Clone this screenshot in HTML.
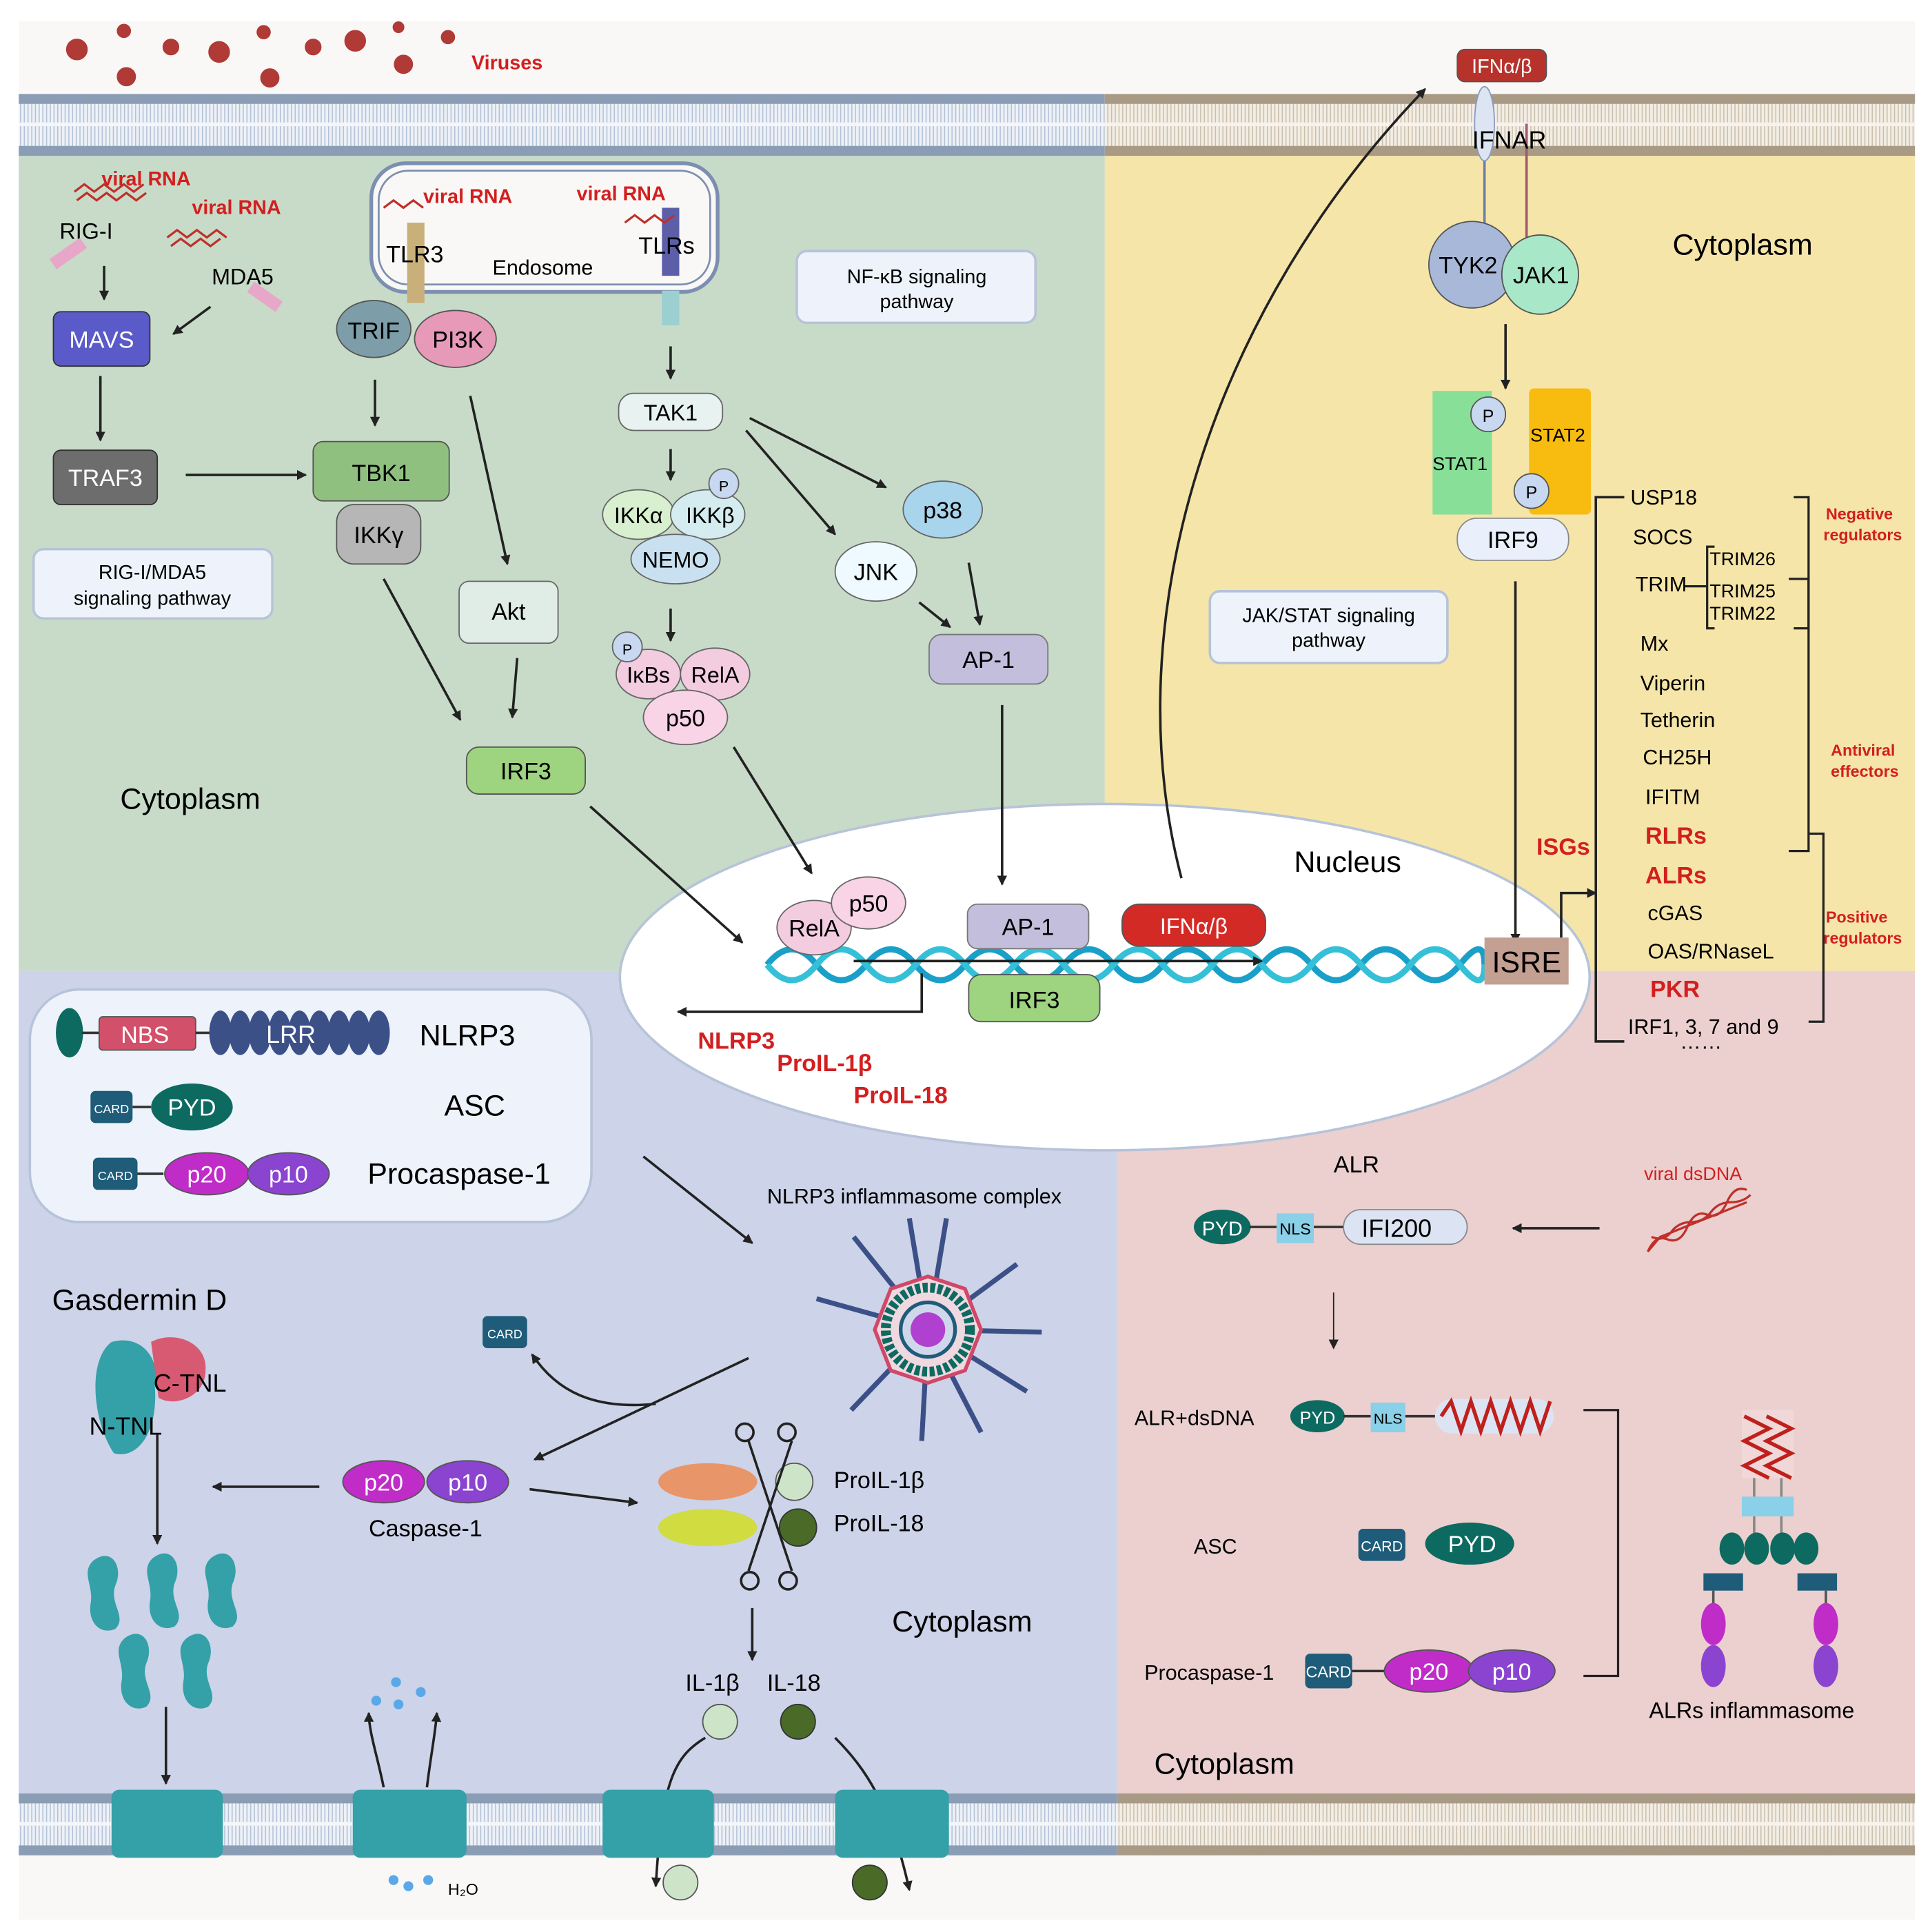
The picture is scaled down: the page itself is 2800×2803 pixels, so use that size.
<!DOCTYPE html>
<html><head><meta charset="utf-8"><style>
html,body{margin:0;padding:0;background:#fff}
svg{display:block}
text{font-family:"Liberation Sans","DejaVu Sans",sans-serif}
</style></head><body>
<svg width="2800" height="2803" viewBox="0 0 1560 1562" xmlns="http://www.w3.org/2000/svg">
<defs>
<marker id="ar" markerWidth="8" markerHeight="8" refX="7" refY="4" orient="auto" markerUnits="userSpaceOnUse"><path d="M0,0 L8,4 L0,8 z" fill="#222"/></marker>
<pattern id="strL" width="3" height="10" patternUnits="userSpaceOnUse"><rect width="3" height="10" fill="#eef2f8"/><line x1="1.5" y1="0" x2="1.5" y2="10" stroke="#b4c2d6" stroke-width="0.9"/></pattern>
<pattern id="strR" width="3" height="10" patternUnits="userSpaceOnUse"><rect width="3" height="10" fill="#f3eee5"/><line x1="1.5" y1="0" x2="1.5" y2="10" stroke="#cbbfac" stroke-width="0.9"/></pattern>
</defs>
<rect width="1560" height="1562" fill="#fff"/>
<rect x="15" y="17" width="1533" height="1535" fill="#f9f8f6"/>
<!-- regions -->
<rect x="15" y="125" width="878" height="660" fill="#c8dbc8"/>
<rect x="893" y="125" width="655" height="660" fill="#f5e5a8"/>
<rect x="15" y="785" width="888" height="665" fill="#cdd3e8"/>
<rect x="903" y="785" width="645" height="665" fill="#ebd0cf"/>
<!-- membranes -->
<g>
<rect x="15" y="76" width="878" height="50" fill="url(#strL)"/>
<rect x="15" y="76" width="878" height="8" fill="#8a9db5"/><rect x="15" y="118" width="878" height="8" fill="#8a9db5"/>
<rect x="15" y="99" width="878" height="3" fill="#f4f6fa"/>
<rect x="893" y="76" width="655" height="50" fill="url(#strR)"/>
<rect x="893" y="76" width="655" height="8" fill="#a89a85"/><rect x="893" y="118" width="655" height="8" fill="#a89a85"/>
<rect x="893" y="99" width="655" height="3" fill="#f7f3ec"/>
<rect x="15" y="1450" width="888" height="50" fill="url(#strL)"/>
<rect x="15" y="1450" width="888" height="8" fill="#8a9db5"/><rect x="15" y="1492" width="888" height="8" fill="#8a9db5"/>
<rect x="15" y="1473" width="888" height="3" fill="#f4f6fa"/>
<rect x="903" y="1450" width="645" height="50" fill="url(#strR)"/>
<rect x="903" y="1450" width="645" height="8" fill="#a89a85"/><rect x="903" y="1492" width="645" height="8" fill="#a89a85"/>
<rect x="903" y="1473" width="645" height="3" fill="#f7f3ec"/>
</g>
<!-- nucleus -->
<ellipse cx="893" cy="790" rx="392" ry="140" fill="#fff" stroke="#b6c3d8" stroke-width="2"/>
<!-- viruses -->
<g fill="#b03a36" stroke="#b03a36" stroke-width="1.5">
<circle cx="62" cy="40" r="8"/><circle cx="100" cy="25" r="5"/><circle cx="138" cy="38" r="6"/><circle cx="177" cy="42" r="8"/><circle cx="213" cy="26" r="5"/><circle cx="253" cy="38" r="6"/><circle cx="287" cy="33" r="8"/><circle cx="322" cy="22" r="4"/><circle cx="362" cy="30" r="5"/><circle cx="102" cy="62" r="7"/><circle cx="218" cy="63" r="7"/><circle cx="326" cy="52" r="7"/>
</g>
<text x="381" y="56" font-size="16" fill="#d21f1f" font-weight="bold">Viruses</text>
<!-- endosome -->
<rect x="300" y="132" width="280" height="104" rx="28" fill="#f9f8f6" stroke="#7c8fb0" stroke-width="3"/>
<rect x="306" y="138" width="268" height="92" rx="24" fill="none" stroke="#7c8fb0" stroke-width="1.5"/>
<rect x="329" y="180" width="14" height="65" fill="#c9b07a"/>
<rect x="535" y="168" width="14" height="55" fill="#5c5fa8"/>
<rect x="535" y="235" width="14" height="28" fill="#9ccfcf"/>
<text x="398" y="222" font-size="17">Endosome</text>
<text x="312" y="212" font-size="19">TLR3</text>
<text x="516" y="205" font-size="19">TLRs</text>
<g fill="#d21f1f" font-size="16" font-weight="bold">
<text x="82" y="150">viral RNA</text><text x="155" y="173">viral RNA</text><text x="342" y="164">viral RNA</text><text x="466" y="162">viral RNA</text>
<text x="1329" y="954" font-size="15" font-weight="normal">viral dsDNA</text>
</g>
<g stroke="#c0302a" stroke-width="1.8" fill="none">
<path d="M60,155 l8,-6 8,6 8,-6 8,6 8,-6 8,6 8,-6"/><path d="M62,162 l8,-6 8,6 8,-6 8,6 8,-6 8,6 8,-6"/>
<path d="M135,192 l8,-6 8,6 8,-6 8,6 8,-6 8,6"/><path d="M138,199 l8,-6 8,6 8,-6 8,6 8,-6"/>
<path d="M310,168 l8,-6 8,6 8,-6 8,6"/><path d="M505,180 l8,-6 8,6 8,-6 8,6 8,-6"/>
<path d="M1332,1012 l10,-12 10,-4 10,-4 10,-4 10,-4 10,-4 10,-4 10,-4"/>
<path d="M1332,1012 q6,-14 16,-10 t16,-10 t16,-10 t16,-10 t16,-10"/>
<path d="M1335,1000 q10,4 16,-4 t16,-8 t16,-8 t16,-8 t16,-6"/>
</g>
<text x="48" y="193" font-size="18">RIG-I</text>
<text x="171" y="230" font-size="18">MDA5</text>
<rect x="40" y="200" width="30" height="10" fill="#e8a6c8" transform="rotate(-35 55 205)"/>
<rect x="200" y="235" width="28" height="10" fill="#e8a6c8" transform="rotate(35 214 240)"/>
<!-- nodes left -->
<rect x="43" y="252" width="78" height="44" rx="6" fill="#5a5ac8" stroke="#333"/>
<text x="82" y="281" font-size="19" fill="#fff" text-anchor="middle">MAVS</text>
<rect x="43" y="364" width="84" height="44" rx="6" fill="#6d6d6d" stroke="#333"/>
<text x="85" y="393" font-size="19" fill="#fff" text-anchor="middle">TRAF3</text>
<rect x="27" y="444" width="193" height="56" rx="8" fill="#eef3fb" stroke="#b6c3d8" stroke-width="2"/>
<text x="123" y="468" font-size="16" text-anchor="middle">RIG-I/MDA5</text><text x="123" y="489" font-size="16" text-anchor="middle">signaling pathway</text>
<ellipse cx="302" cy="266" rx="30" ry="23" fill="#7d9ea8" stroke="#555"/><text x="302" y="274" font-size="19" text-anchor="middle">TRIF</text>
<ellipse cx="368" cy="274" rx="33" ry="23" fill="#e79ab8" stroke="#555"/><text x="370" y="281" font-size="19" text-anchor="middle">PI3K</text>
<rect x="253" y="357" width="110" height="48" rx="8" fill="#8fc080" stroke="#555"/><text x="308" y="389" font-size="19" text-anchor="middle">TBK1</text>
<rect x="272" y="408" width="68" height="48" rx="14" fill="#b6b6b6" stroke="#555"/><text x="306" y="439" font-size="19" text-anchor="middle">IKKγ</text>
<rect x="371" y="470" width="80" height="50" rx="8" fill="#e0ece6" stroke="#666"/><text x="411" y="501" font-size="19" text-anchor="middle">Akt</text>
<rect x="377" y="604" width="96" height="38" rx="10" fill="#9ed480" stroke="#555"/><text x="425" y="630" font-size="19" text-anchor="middle">IRF3</text>
<text x="97" y="654" font-size="24">Cytoplasm</text>
<!-- NF-kB -->
<rect x="500" y="318" width="84" height="30" rx="12" fill="#e8f2f0" stroke="#666"/><text x="542" y="340" font-size="18" text-anchor="middle">TAK1</text>
<rect x="644" y="203" width="193" height="58" rx="8" fill="#eef3fb" stroke="#b6c3d8" stroke-width="2"/>
<text x="741" y="229" font-size="16" text-anchor="middle">NF-κB signaling</text><text x="741" y="249" font-size="16" text-anchor="middle">pathway</text>
<ellipse cx="516" cy="416" rx="29" ry="20" fill="#d9f0d0" stroke="#666"/><text x="516" y="423" font-size="18" text-anchor="middle">IKKα</text>
<ellipse cx="572" cy="416" rx="30" ry="20" fill="#d4ecef" stroke="#666"/><text x="574" y="423" font-size="18" text-anchor="middle">IKKβ</text>
<circle cx="585" cy="391" r="12" fill="#c8d8f0" stroke="#666"/><text x="585" y="397" font-size="12" text-anchor="middle">P</text>
<ellipse cx="546" cy="452" rx="36" ry="20" fill="#c8e0f0" stroke="#666"/><text x="546" y="459" font-size="18" text-anchor="middle">NEMO</text>
<ellipse cx="762" cy="412" rx="32" ry="23" fill="#a8d4ec" stroke="#666"/><text x="762" y="419" font-size="19" text-anchor="middle">p38</text>
<ellipse cx="708" cy="462" rx="33" ry="24" fill="#eefaff" stroke="#666"/><text x="708" y="469" font-size="19" text-anchor="middle">JNK</text>
<rect x="751" y="513" width="96" height="40" rx="10" fill="#c2bedc" stroke="#777"/><text x="799" y="540" font-size="19" text-anchor="middle">AP-1</text>
<ellipse cx="524" cy="545" rx="26" ry="20" fill="#f4cce0" stroke="#666"/><text x="524" y="552" font-size="18" text-anchor="middle">IκBs</text>
<ellipse cx="578" cy="545" rx="28" ry="21" fill="#f4cce0" stroke="#666"/><text x="578" y="552" font-size="18" text-anchor="middle">RelA</text>
<ellipse cx="554" cy="580" rx="34" ry="22" fill="#f8d4e6" stroke="#666"/><text x="554" y="587" font-size="19" text-anchor="middle">p50</text>
<circle cx="507" cy="523" r="12" fill="#c8d8f0" stroke="#666"/><text x="507" y="529" font-size="12" text-anchor="middle">P</text>
<!-- arrows -->
<g stroke="#222" stroke-width="2" fill="none" marker-end="url(#ar)">
<line x1="84" y1="215" x2="84" y2="242"/><line x1="170" y1="248" x2="140" y2="270"/>
<line x1="81" y1="304" x2="81" y2="356"/><line x1="150" y1="384" x2="247" y2="384"/>
<line x1="303" y1="307" x2="303" y2="344"/><line x1="380" y1="320" x2="410" y2="456"/>
<line x1="310" y1="468" x2="372" y2="582"/><line x1="418" y1="532" x2="414" y2="580"/>
<line x1="542" y1="280" x2="542" y2="306"/><line x1="542" y1="363" x2="542" y2="388"/>
<line x1="542" y1="492" x2="542" y2="518"/>
<line x1="606" y1="338" x2="716" y2="394"/><line x1="603" y1="348" x2="675" y2="432"/>
<line x1="783" y1="455" x2="792" y2="505"/><line x1="743" y1="487" x2="768" y2="507"/>
<line x1="810" y1="570" x2="810" y2="715"/>
<line x1="593" y1="604" x2="656" y2="706"/><line x1="477" y1="652" x2="600" y2="762"/>
<line x1="1217" y1="262" x2="1217" y2="314"/><line x1="1225" y1="470" x2="1225" y2="762"/>
<path d="M955,710 C900,500 980,250 1152,72"/>
<line x1="1293" y1="993" x2="1223" y2="993"/><line x1="1078" y1="1045" x2="1078" y2="1090" stroke-width="1"/>
<line x1="520" y1="935" x2="608" y2="1005"/><line x1="605" y1="1098" x2="432" y2="1180"/>
<path d="M530,1135 C480,1140 450,1125 430,1095"/>
<line x1="258" y1="1202" x2="172" y2="1202"/><line x1="428" y1="1204" x2="515" y2="1215"/>
<line x1="127" y1="1160" x2="127" y2="1248"/><line x1="134" y1="1380" x2="134" y2="1442"/>
<line x1="608" y1="1300" x2="608" y2="1342"/>
<path d="M310,1445 C305,1420 298,1400 298,1385"/><path d="M345,1445 C348,1420 352,1400 353,1385"/>
<path d="M570,1405 C545,1420 535,1440 530,1525"/><path d="M675,1405 C700,1430 720,1460 735,1528"/>
</g>
<text x="1046" y="705" font-size="24">Nucleus</text>
<path d="M620,780 q20,-25 40,0 t40,0 t40,0 t40,0 t40,0 t40,0 t40,0 t40,0 t40,0 t40,0 t40,0 t40,0 t40,0 t40,0 t20,0" stroke="#1aa0c8" stroke-width="5" fill="none"/>
<path d="M620,780 q20,25 40,0 t40,0 t40,0 t40,0 t40,0 t40,0 t40,0 t40,0 t40,0 t40,0 t40,0 t40,0 t40,0 t40,0 t20,0" stroke="#35c0d8" stroke-width="5" fill="none"/>
<line x1="690" y1="777" x2="1020" y2="777" stroke="#222" stroke-width="2" marker-end="url(#ar)"/>
<polyline points="745,787 745,818 548,818" stroke="#222" stroke-width="2" fill="none" marker-end="url(#ar)"/>
<ellipse cx="658" cy="750" rx="30" ry="22" fill="#f4cce0" stroke="#666"/><text x="658" y="757" font-size="19" text-anchor="middle">RelA</text>
<ellipse cx="702" cy="730" rx="30" ry="21" fill="#f8d4e6" stroke="#666"/><text x="702" y="737" font-size="19" text-anchor="middle">p50</text>
<rect x="782" y="731" width="98" height="36" rx="8" fill="#c2bedc" stroke="#777"/><text x="831" y="756" font-size="19" text-anchor="middle">AP-1</text>
<rect x="907" y="731" width="116" height="34" rx="14" fill="#d42a26" stroke="#555"/><text x="965" y="755" font-size="18" fill="#fff" text-anchor="middle">IFNα/β</text>
<rect x="783" y="788" width="106" height="38" rx="10" fill="#9ed480" stroke="#555"/><text x="836" y="815" font-size="19" text-anchor="middle">IRF3</text>
<rect x="1200" y="758" width="68" height="38" fill="#c4a092"/><text x="1234" y="786" font-size="24" text-anchor="middle">ISRE</text>
<g fill="#d21f1f" font-size="19" font-weight="bold"><text x="564" y="848">NLRP3</text><text x="628" y="866">ProIL-1β</text><text x="690" y="892">ProIL-18</text></g>
<!-- right top -->
<line x1="1200" y1="70" x2="1200" y2="185" stroke="#6c7fa8" stroke-width="2"/>
<line x1="1234" y1="100" x2="1234" y2="192" stroke="#a05a70" stroke-width="2"/>
<ellipse cx="1200" cy="100" rx="8" ry="30" fill="#dde5f2" stroke="#8a9ac0"/>
<rect x="1178" y="40" width="72" height="26" rx="6" fill="#b8322c" stroke="#555"/><text x="1214" y="59" font-size="16" fill="#fff" text-anchor="middle">IFNα/β</text>
<text x="1190" y="120" font-size="20">IFNAR</text>
<ellipse cx="1190" cy="214" rx="35" ry="35" fill="#a8b8d8" stroke="#555"/><text x="1163" y="221" font-size="19">TYK2</text>
<ellipse cx="1245" cy="222" rx="31" ry="32" fill="#a8e8c8" stroke="#555"/><text x="1223" y="229" font-size="19">JAK1</text>
<text x="1352" y="206" font-size="24">Cytoplasm</text>
<rect x="1158" y="316" width="48" height="100" fill="#88e098"/><text x="1158" y="380" font-size="15">STAT1</text>
<rect x="1236" y="314" width="50" height="102" rx="4" fill="#f8bc10"/><text x="1237" y="357" font-size="15">STAT2</text>
<circle cx="1203" cy="335" r="14" fill="#c8d8f0" stroke="#555"/><text x="1203" y="341" font-size="14" text-anchor="middle">P</text>
<circle cx="1238" cy="397" r="14" fill="#c8d8f0" stroke="#555"/><text x="1238" y="403" font-size="14" text-anchor="middle">P</text>
<rect x="1178" y="419" width="90" height="34" rx="16" fill="#eaf0fb" stroke="#888"/><text x="1223" y="443" font-size="19" text-anchor="middle">IRF9</text>
<rect x="978" y="478" width="192" height="58" rx="8" fill="#eef3fb" stroke="#b6c3d8" stroke-width="2"/>
<text x="1074" y="503" font-size="16" text-anchor="middle">JAK/STAT signaling</text><text x="1074" y="523" font-size="16" text-anchor="middle">pathway</text>
<text x="1242" y="691" font-size="19" fill="#d21f1f" font-weight="bold">ISGs</text>
<polyline points="1262,758 1262,722 1290,722" stroke="#222" stroke-width="2" fill="none" marker-end="url(#ar)"/>
<polyline points="1313,402 1290,402 1290,842 1313,842" stroke="#222" stroke-width="2" fill="none"/>
<g font-size="17">
<text x="1318" y="408">USP18</text><text x="1320" y="440">SOCS</text><text x="1322" y="478">TRIM</text>
<text x="1382" y="457" font-size="15">TRIM26</text><text x="1382" y="483" font-size="15">TRIM25</text><text x="1382" y="501" font-size="15">TRIM22</text>
<text x="1326" y="526">Mx</text><text x="1326" y="558">Viperin</text><text x="1326" y="588">Tetherin</text><text x="1328" y="618">CH25H</text><text x="1330" y="650">IFITM</text>
<text x="1330" y="682" fill="#d21f1f" font-weight="bold" font-size="19">RLRs</text><text x="1330" y="714" fill="#d21f1f" font-weight="bold" font-size="19">ALRs</text>
<text x="1332" y="744">cGAS</text><text x="1332" y="775">OAS/RNaseL</text>
<text x="1334" y="806" fill="#d21f1f" font-weight="bold" font-size="19">PKR</text><text x="1316" y="836">IRF1, 3, 7 and 9</text><text x="1358" y="848">……</text>
</g>
<g stroke="#222" stroke-width="1.8" fill="none">
<polyline points="1450,402 1462,402 1462,508 1450,508"/><polyline points="1386,442 1380,442 1380,508 1386,508"/><polyline points="1362,474 1380,474"/>
<polyline points="1446,468 1462,468 1462,688 1446,688"/><polyline points="1462,674 1474,674 1474,826 1462,826"/>
</g>
<g fill="#d21f1f" font-size="13" font-weight="bold">
<text x="1476" y="420">Negative</text><text x="1474" y="437">regulators</text>
<text x="1480" y="611">Antiviral</text><text x="1480" y="628">effectors</text>
<text x="1476" y="746">Positive</text><text x="1474" y="763">regulators</text>
</g>
<!-- bottom-left legend -->
<rect x="24" y="800" width="454" height="188" rx="40" fill="#eef3fb" stroke="#b6c3d8" stroke-width="2"/>
<ellipse cx="56" cy="835" rx="11" ry="20" fill="#0d6a60"/>
<line x1="66" y1="835" x2="80" y2="835" stroke="#333" stroke-width="2"/>
<rect x="80" y="822" width="78" height="27" rx="3" fill="#d2506a" stroke="#555"/><text x="117" y="843" font-size="19" fill="#fff" text-anchor="middle">NBS</text>
<line x1="158" y1="835" x2="170" y2="835" stroke="#333" stroke-width="2"/>
<g fill="#3c5088"><ellipse cx="178" cy="835" rx="9" ry="18"/><ellipse cx="194" cy="835" rx="9" ry="18"/><ellipse cx="210" cy="835" rx="9" ry="18"/><ellipse cx="226" cy="835" rx="9" ry="18"/><ellipse cx="242" cy="835" rx="9" ry="18"/><ellipse cx="258" cy="835" rx="9" ry="18"/><ellipse cx="274" cy="835" rx="9" ry="18"/><ellipse cx="290" cy="835" rx="9" ry="18"/><ellipse cx="306" cy="835" rx="9" ry="18"/></g>
<text x="215" y="843" font-size="20" fill="#fff">LRR</text>
<text x="339" y="845" font-size="24">NLRP3</text>
<rect x="73" y="882" width="34" height="26" rx="4" fill="#1e5c7a"/><text x="90" y="900" font-size="10" fill="#fff" text-anchor="middle">CARD</text>
<line x1="107" y1="895" x2="122" y2="895" stroke="#333" stroke-width="2"/>
<ellipse cx="155" cy="895" rx="33" ry="19" fill="#0d6a60"/><text x="155" y="902" font-size="19" fill="#fff" text-anchor="middle">PYD</text>
<text x="359" y="902" font-size="24">ASC</text>
<rect x="75" y="936" width="36" height="26" rx="4" fill="#1e5c7a"/><text x="93" y="954" font-size="10" fill="#fff" text-anchor="middle">CARD</text>
<line x1="111" y1="949" x2="132" y2="949" stroke="#333" stroke-width="2"/>
<ellipse cx="167" cy="949" rx="34" ry="17" fill="#c02cc8" stroke="#555"/><text x="167" y="956" font-size="19" fill="#fff" text-anchor="middle">p20</text>
<ellipse cx="233" cy="949" rx="33" ry="17" fill="#8a44d0" stroke="#555"/><text x="233" y="956" font-size="19" fill="#fff" text-anchor="middle">p10</text>
<text x="297" y="957" font-size="24">Procaspase-1</text>
<!-- inflammasome -->
<text x="620" y="973" font-size="17">NLRP3 inflammasome complex</text>
<g stroke="#3c5088" stroke-width="4">
<line x1="750" y1="1075" x2="765" y2="985"/><line x1="750" y1="1075" x2="822" y2="1022"/><line x1="750" y1="1075" x2="842" y2="1077"/><line x1="750" y1="1075" x2="830" y2="1125"/><line x1="750" y1="1075" x2="793" y2="1158"/><line x1="750" y1="1075" x2="745" y2="1165"/><line x1="750" y1="1075" x2="688" y2="1140"/><line x1="750" y1="1075" x2="660" y2="1050"/><line x1="750" y1="1075" x2="690" y2="1000"/><line x1="750" y1="1075" x2="735" y2="985"/>
</g>
<polygon points="750,1032 780,1042 793,1075 780,1108 750,1118 720,1108 707,1075 720,1042" fill="#f0d8e0" stroke="#d04868" stroke-width="3"/>
<circle cx="750" cy="1075" r="34" fill="none" stroke="#0d6a60" stroke-width="8" stroke-dasharray="4 2"/>
<circle cx="750" cy="1075" r="22" fill="#cfd8ea" stroke="#1e5c7a" stroke-width="3"/>
<circle cx="750" cy="1075" r="14" fill="#b040d0"/>
<rect x="390" y="1064" width="36" height="26" rx="4" fill="#1e5c7a"/><text x="408" y="1082" font-size="10" fill="#fff" text-anchor="middle">CARD</text>
<text x="42" y="1059" font-size="24">Gasdermin D</text>
<path d="M90,1085 C70,1100 75,1150 92,1175 C110,1180 128,1160 125,1120 C130,1100 115,1078 90,1085z" fill="#34a0a8"/>
<path d="M122,1085 C140,1075 168,1085 166,1108 C166,1130 140,1138 128,1130z" fill="#d85a72"/>
<text x="124" y="1125" font-size="20">C-TNL</text><text x="72" y="1160" font-size="20">N-TNL</text>
<g fill="#34a0a8">
<path d="M75,1262 c15,-12 25,5 18,20 c-5,15 10,25 0,35 c-12,5 -22,-5 -20,-20 c3,-15 -8,-25 2,-35z"/>
<path d="M123,1260 c15,-12 25,5 18,20 c-5,15 10,25 0,35 c-12,5 -22,-5 -20,-20 c3,-15 -8,-25 2,-35z"/>
<path d="M170,1260 c15,-12 25,5 18,20 c-5,15 10,25 0,35 c-12,5 -22,-5 -20,-20 c3,-15 -8,-25 2,-35z"/>
<path d="M100,1325 c15,-12 25,5 18,20 c-5,15 10,25 0,35 c-12,5 -22,-5 -20,-20 c3,-15 -8,-25 2,-35z"/>
<path d="M150,1325 c15,-12 25,5 18,20 c-5,15 10,25 0,35 c-12,5 -22,-5 -20,-20 c3,-15 -8,-25 2,-35z"/>
<rect x="90" y="1447" width="90" height="55" rx="6"/><rect x="285" y="1447" width="92" height="55" rx="6"/><rect x="487" y="1447" width="90" height="55" rx="6"/><rect x="675" y="1447" width="92" height="55" rx="6"/>
</g>
<ellipse cx="310" cy="1198" rx="33" ry="17" fill="#c02cc8" stroke="#555"/><text x="310" y="1205" font-size="19" fill="#fff" text-anchor="middle">p20</text>
<ellipse cx="378" cy="1198" rx="33" ry="17" fill="#8a44d0" stroke="#555"/><text x="378" y="1205" font-size="19" fill="#fff" text-anchor="middle">p10</text>
<text x="298" y="1242" font-size="19">Caspase-1</text>
<ellipse cx="572" cy="1198" rx="40" ry="15" fill="#e8956a"/><circle cx="642" cy="1198" r="15" fill="#cde4c8" stroke="#555"/>
<ellipse cx="572" cy="1235" rx="40" ry="15" fill="#d0dc40"/><circle cx="645" cy="1235" r="15" fill="#4a6a28" stroke="#333"/>
<g stroke="#222" stroke-width="2" fill="none"><line x1="605" y1="1165" x2="640" y2="1270"/><line x1="640" y1="1165" x2="605" y2="1270"/><circle cx="602" cy="1158" r="7"/><circle cx="636" cy="1158" r="7"/><circle cx="606" cy="1278" r="7"/><circle cx="637" cy="1278" r="7"/></g>
<text x="674" y="1203" font-size="19">ProIL-1β</text><text x="674" y="1238" font-size="19">ProIL-18</text>
<text x="721" y="1319" font-size="24">Cytoplasm</text>
<text x="554" y="1367" font-size="19">IL-1β</text><text x="620" y="1367" font-size="19">IL-18</text>
<circle cx="582" cy="1392" r="14" fill="#cde4c8" stroke="#555"/><circle cx="645" cy="1392" r="14" fill="#4a6a28" stroke="#333"/>
<circle cx="550" cy="1522" r="14" fill="#cde4c8" stroke="#555"/><circle cx="703" cy="1522" r="14" fill="#4a6a28" stroke="#333"/>
<g fill="#5aa8e8"><circle cx="320" cy="1360" r="4"/><circle cx="304" cy="1375" r="4"/><circle cx="322" cy="1378" r="4"/><circle cx="340" cy="1368" r="4"/><circle cx="318" cy="1520" r="4"/><circle cx="330" cy="1525" r="4"/><circle cx="346" cy="1520" r="4"/></g>
<text x="362" y="1532" font-size="13">H₂O</text>
<!-- bottom right -->
<text x="1078" y="948" font-size="19">ALR</text>
<ellipse cx="988" cy="992" rx="23" ry="14" fill="#0d6a60"/><text x="988" y="999" font-size="16" fill="#fff" text-anchor="middle">PYD</text>
<line x1="1010" y1="992" x2="1032" y2="992" stroke="#333" stroke-width="2"/>
<rect x="1032" y="981" width="30" height="24" fill="#8ad0e8"/><text x="1047" y="998" font-size="13" text-anchor="middle">NLS</text>
<line x1="1062" y1="992" x2="1086" y2="992" stroke="#333" stroke-width="2"/>
<rect x="1086" y="978" width="100" height="28" rx="14" fill="#dce4f4" stroke="#888"/><text x="1129" y="1000" font-size="20" text-anchor="middle">IFI200</text>
<text x="917" y="1152" font-size="17">ALR+dsDNA</text>
<ellipse cx="1065" cy="1145" rx="22" ry="13" fill="#0d6a60"/><text x="1065" y="1151" font-size="14" fill="#fff" text-anchor="middle">PYD</text>
<line x1="1086" y1="1145" x2="1108" y2="1145" stroke="#333" stroke-width="2"/>
<rect x="1108" y="1134" width="28" height="24" fill="#8ad0e8"/><text x="1122" y="1151" font-size="12" text-anchor="middle">NLS</text>
<line x1="1136" y1="1145" x2="1160" y2="1145" stroke="#333" stroke-width="2"/>
<rect x="1160" y="1131" width="96" height="28" rx="14" fill="#dce4f4"/>
<path d="M1165,1145 l8,-12 8,24 8,-24 8,24 8,-24 8,24 8,-24 8,24 8,-24 8,24 8,-24" stroke="#c0201c" stroke-width="3" fill="none"/>
<text x="965" y="1256" font-size="17">ASC</text>
<rect x="1098" y="1236" width="38" height="26" rx="4" fill="#1e5c7a"/><text x="1117" y="1254" font-size="12" fill="#fff" text-anchor="middle">CARD</text>
<ellipse cx="1188" cy="1248" rx="36" ry="17" fill="#0d6a60"/><text x="1190" y="1255" font-size="19" fill="#fff" text-anchor="middle">PYD</text>
<text x="925" y="1358" font-size="17">Procaspase-1</text>
<rect x="1055" y="1337" width="38" height="28" rx="4" fill="#1e5c7a"/><text x="1074" y="1356" font-size="13" fill="#fff" text-anchor="middle">CARD</text>
<line x1="1093" y1="1351" x2="1120" y2="1351" stroke="#333" stroke-width="2"/>
<ellipse cx="1155" cy="1351" rx="36" ry="17" fill="#c02cc8" stroke="#555"/><text x="1155" y="1358" font-size="19" fill="#fff" text-anchor="middle">p20</text>
<ellipse cx="1222" cy="1351" rx="35" ry="17" fill="#8a44d0" stroke="#555"/><text x="1222" y="1358" font-size="19" fill="#fff" text-anchor="middle">p10</text>
<polyline points="1280,1140 1308,1140 1308,1355 1280,1355" stroke="#222" stroke-width="1.8" fill="none"/>
<rect x="1408" y="1140" width="42" height="55" fill="#f0d8d8"/>
<path d="M1410,1145 l20,10 -20,10 20,10 -20,10 20,10 M1428,1145 l20,10 -20,10 20,10 -20,10 20,10" stroke="#c0201c" stroke-width="3" fill="none"/>
<line x1="1418" y1="1195" x2="1418" y2="1240" stroke="#888" stroke-width="2"/><line x1="1440" y1="1195" x2="1440" y2="1240" stroke="#888" stroke-width="2"/>
<rect x="1408" y="1210" width="42" height="16" fill="#8ad0e8"/>
<g fill="#0d6a60"><ellipse cx="1400" cy="1252" rx="10" ry="13"/><ellipse cx="1420" cy="1252" rx="10" ry="13"/><ellipse cx="1441" cy="1252" rx="10" ry="13"/><ellipse cx="1460" cy="1252" rx="10" ry="13"/></g>
<g fill="#1e5c7a"><rect x="1377" y="1272" width="32" height="14"/><rect x="1453" y="1272" width="32" height="14"/></g>
<g stroke="#555" stroke-width="2"><line x1="1385" y1="1286" x2="1385" y2="1300"/><line x1="1476" y1="1286" x2="1476" y2="1300"/></g>
<g><ellipse cx="1385" cy="1313" rx="10" ry="17" fill="#c02cc8"/><ellipse cx="1385" cy="1347" rx="10" ry="17" fill="#8a44d0"/><ellipse cx="1476" cy="1313" rx="10" ry="17" fill="#c02cc8"/><ellipse cx="1476" cy="1347" rx="10" ry="17" fill="#8a44d0"/></g>
<text x="1333" y="1389" font-size="18">ALRs inflammasome</text>
<text x="933" y="1434" font-size="24">Cytoplasm</text>
</svg>
</body></html>
